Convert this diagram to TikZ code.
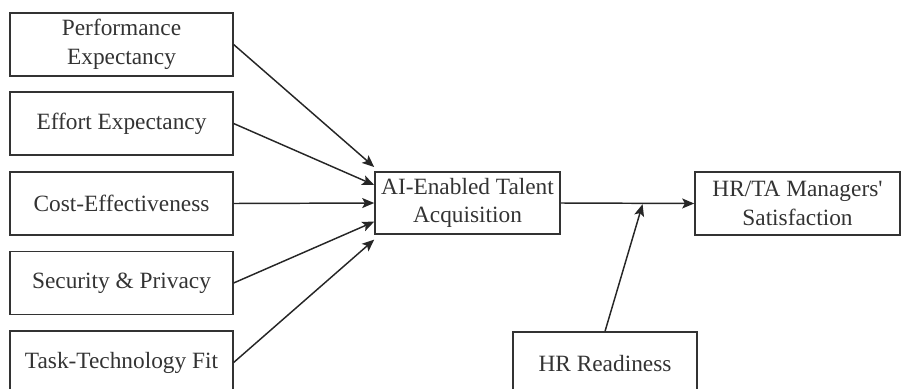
\documentclass[tikz,border=0pt]{standalone}
\usepackage{fontspec}
\setmainfont{Liberation Serif}
\usetikzlibrary{arrows.meta,calc}

\begin{document}
\begin{tikzpicture}[x=0.75pt,y=0.75pt]
	\tikzstyle{every node}+=[inner sep=0pt]
	\tikzstyle{factor}=[draw=black!80, line width=1.2pt, text=black!80, align=center, minimum width=167pt, minimum height=47pt, font=\fontsize{17.5}{21.5}\selectfont]
	\tikzstyle{link}=[draw=black!85, line width=1.1pt, -{Stealth[length=9pt,width=7.5pt,inset=2pt]}]
	\useasboundingbox (0,0) rectangle (903,-389);
	% antecedents
	\node [factor] (pe) at (121.5,-44.5) {Performance\\Expectancy};
	\node [factor] (ee) at (121.5,-123.5) {Effort Expectancy};
	\node [factor] (ce) at (121.5,-203.5) {Cost-Effectiveness};
	\node [factor] (sp) at (121.5,-283) {Security \& Privacy};
	\node [factor] (ttf) at (121.5,-362.5) {Task-Technology Fit};
	% adoption, outcome, moderator
	\node [factor, minimum width=138.75pt, minimum height=46.5pt] (ai) at (467.5,-203) {AI-Enabled Talent\\Acquisition};
	\node [factor, minimum width=153.75pt] (sat) at (797.5,-203.5) {HR/TA Managers\textquotesingle\\Satisfaction};
	\node [factor, minimum width=138pt] (hrr) at (605,-363.5) {HR Readiness};
	\coordinate (mod) at ($(ai.east)!0.615!(sat.west)$);
	% paths
	\draw [link] (pe.east) -- ([yshift=27pt]ai.west);
	\draw [link] (ee.east) -- ([yshift=13.5pt]ai.west);
	\draw [link] (ce.east) -- (ai.west);
	\draw [link] (sp.east) -- ([yshift=-14pt]ai.west);
	\draw [link] (ttf.east) -- ([yshift=-27.5pt]ai.west);
	\draw [link] (ai.east) -- (sat.west);
	\draw [link, shorten >=0.7pt] (hrr.north) -- (mod);
\end{tikzpicture}
\end{document}
